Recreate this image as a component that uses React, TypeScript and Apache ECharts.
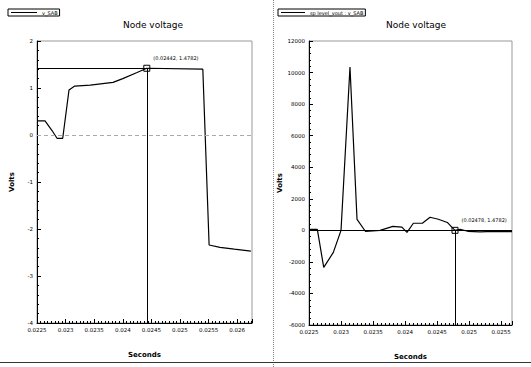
import { useEffect, useRef } from "react";
import * as echarts from "echarts";

// ---------- data ----------
const leftTimes = [0.0225, 0.02264, 0.02276, 0.02285, 0.02295, 0.02306, 0.02316, 0.02343, 0.02383, 0.024, 0.02425, 0.02442, 0.0254, 0.02551, 0.0257, 0.02595, 0.02624];
const leftVolts = [0.3, 0.3, 0.1, -0.07, -0.07, 0.96, 1.04, 1.06, 1.12, 1.2, 1.33, 1.42, 1.4, -2.34, -2.39, -2.43, -2.47];

const rightTimes = [0.0225, 0.02263, 0.02273, 0.02288, 0.023, 0.02314, 0.02325, 0.02338, 0.02361, 0.02381, 0.02395, 0.02403, 0.02413, 0.02427, 0.02439, 0.02452, 0.02466, 0.02473, 0.02478, 0.02486, 0.02498, 0.02517, 0.02538, 0.02567];
const rightVolts = [60, 60, -2350, -1400, 0, 10350, 700, -60, 0, 250, 200, -130, 450, 450, 830, 700, 500, 200, 0, 60, -60, -100, -60, -80];

const leftName = "v_SAB";
const rightName = "sp level_vout : v_SAB";
const chartTitles = ["Node voltage", "Node voltage"];
const xAxisTitle = "Seconds";
const yAxisTitle = "Volts";

const leftXRange = [0.0225, 0.02626];
const leftYRange = [-4, 2];
const rightXRange = [0.0225, 0.02567];
const rightYRange = [-6000, 12000];
const xTickStep = 0.0005;
const leftYStep = 1;
const rightYStep = 2000;

const leftCursor = [0.02442, 1.42];
const rightCursor = [0.02478, 0];
const leftCursorLabel = "(0.02442, 1.4782)";
const rightCursorLabel = "(0.02478, 1.4782)";

const FONT = "DejaVu Sans";

function fmtX(v: number) {
  return String(+v.toFixed(5));
}

export default function App() {
  const ref = useRef<HTMLDivElement>(null);

  useEffect(() => {
    if (!ref.current) return;
    const chart = echarts.init(ref.current, null, { renderer: "svg" });

    const axisLabelStyle = { fontSize: 5.5, color: "#000", fontFamily: FONT, margin: 4 };
    const nameStyle = { fontSize: 7, fontWeight: "bold" as const, color: "#000", fontFamily: FONT };

    const xAxisCommon = (range: number[], split: number) => ({
      type: "value" as const,
      min: range[0],
      max: range[1],
      interval: xTickStep,
      name: xAxisTitle,
      nameLocation: "middle" as const,
      nameGap: 28,
      nameTextStyle: nameStyle,
      axisLine: { show: true, onZero: false, lineStyle: { color: "#000", width: 1 } },
      axisTick: { show: true, inside: true, length: 4, lineStyle: { color: "#000" } },
      minorTick: { show: true, splitNumber: split, length: 2, lineStyle: { color: "#000" } },
      splitLine: { show: false },
      axisLabel: { ...axisLabelStyle, formatter: fmtX, showMaxLabel: false },
    });

    const yAxisCommon = (range: number[], step: number, gap: number) => ({
      type: "value" as const,
      min: range[0],
      max: range[1],
      interval: step,
      name: yAxisTitle,
      nameLocation: "middle" as const,
      nameRotate: 90,
      nameGap: gap,
      nameTextStyle: nameStyle,
      axisLine: { show: true, onZero: false, lineStyle: { color: "#000", width: 1 } },
      axisTick: { show: true, inside: true, length: 4, lineStyle: { color: "#000" } },
      minorTick: { show: true, splitNumber: 5, length: 2, lineStyle: { color: "#000" } },
      splitLine: { show: false },
      axisLabel: { ...axisLabelStyle, formatter: (v: number) => String(v) },
    });

    const blackLine = { color: "#000", width: 1, type: "solid" as const };

    chart.setOption({
      animation: false,
      backgroundColor: "#fff",
      textStyle: { fontFamily: FONT },
      title: [
        { text: chartTitles[0], left: 148, top: 15, textAlign: "center", textStyle: { fontSize: 9, fontWeight: "normal", color: "#000", fontFamily: FONT } },
        { text: chartTitles[1], left: 411, top: 15, textAlign: "center", textStyle: { fontSize: 9, fontWeight: "normal", color: "#000", fontFamily: FONT } },
      ],
      legend: [
        {
          data: [leftName], left: 8, top: 9, orient: "horizontal",
          borderColor: "#000", borderWidth: 1, padding: [1, 2, 1, 3],
          icon: "rect", itemWidth: 26, itemHeight: 1, itemGap: 2,
          textStyle: { fontSize: 5, color: "#000", fontFamily: FONT },
          selectedMode: false,
        },
        {
          data: [rightName], left: 278, top: 9, orient: "horizontal",
          borderColor: "#000", borderWidth: 1, padding: [1, 2, 1, 3],
          icon: "rect", itemWidth: 24, itemHeight: 1, itemGap: 2,
          textStyle: { fontSize: 5, color: "#000", fontFamily: FONT },
          selectedMode: false,
        },
      ],
      grid: [
        { left: 37, top: 41, width: 215, height: 282, show: true, borderColor: "#999", borderWidth: 1, backgroundColor: "transparent" },
        { left: 309, top: 41, width: 203, height: 284, show: true, borderColor: "#999", borderWidth: 1, backgroundColor: "transparent" },
      ],
      xAxis: [
        { ...xAxisCommon(leftXRange, 8), gridIndex: 0 },
        { ...xAxisCommon(rightXRange, 8), gridIndex: 1 },
      ],
      yAxis: [
        { ...yAxisCommon(leftYRange, leftYStep, 22), gridIndex: 0 },
        { ...yAxisCommon(rightYRange, rightYStep, 24), gridIndex: 1 },
      ],
      series: [
        {
          name: leftName,
          type: "line",
          xAxisIndex: 0,
          yAxisIndex: 0,
          data: leftTimes.map((t, i) => [t, leftVolts[i]]),
          showSymbol: false,
          lineStyle: { color: "#000", width: 1.2 },
          itemStyle: { color: "#000" },
          silent: true,
          markLine: {
            silent: true,
            symbol: ["none", "none"],
            label: { show: false },
            lineStyle: blackLine,
            data: [
              { yAxis: 0, lineStyle: { color: "#aaa", width: 1, type: [4, 3] } },
              [{ coord: [leftXRange[0], leftCursor[1]] }, { coord: leftCursor }],
              [{ coord: leftCursor }, { coord: [leftCursor[0], leftYRange[0]] }],
            ],
          },
          markPoint: {
            silent: true,
            symbol: "rect",
            symbolSize: 6,
            itemStyle: { color: "rgba(0,0,0,0)", borderColor: "#000", borderWidth: 1 },
            label: { show: true, formatter: leftCursorLabel, position: [10, -9], fontSize: 5, color: "#000", fontFamily: FONT },
            data: [{ coord: leftCursor }],
          },
        },
        {
          name: rightName,
          type: "line",
          xAxisIndex: 1,
          yAxisIndex: 1,
          data: rightTimes.map((t, i) => [t, rightVolts[i]]),
          showSymbol: false,
          lineStyle: { color: "#000", width: 1.2 },
          itemStyle: { color: "#000" },
          silent: true,
          markLine: {
            silent: true,
            symbol: ["none", "none"],
            label: { show: false },
            lineStyle: blackLine,
            data: [
              { yAxis: 0 },
              [{ coord: rightCursor }, { coord: [rightCursor[0], rightYRange[0]] }],
            ],
          },
          markPoint: {
            silent: true,
            symbol: "rect",
            symbolSize: 6,
            itemStyle: { color: "rgba(0,0,0,0)", borderColor: "#000", borderWidth: 1 },
            label: { show: true, formatter: rightCursorLabel, position: [10, -9], fontSize: 5, color: "#000", fontFamily: FONT },
            data: [{ coord: rightCursor }],
          },
        },
      ],
      graphic: [
        { type: "line", shape: { x1: 273.5, y1: 0, x2: 273.5, y2: 367 }, style: { stroke: "#888", lineWidth: 1, lineDash: [1, 1] }, silent: true },
        { type: "line", shape: { x1: 0, y1: 362.5, x2: 531, y2: 362.5 }, style: { stroke: "#333", lineWidth: 1 }, silent: true },
      ],
    });

    return () => chart.dispose();
  }, []);

  return (
    <div
      ref={ref}
      style={{ position: "absolute", left: 0, top: 0, width: 531, height: 367, background: "#fff" }}
    />
  );
}
